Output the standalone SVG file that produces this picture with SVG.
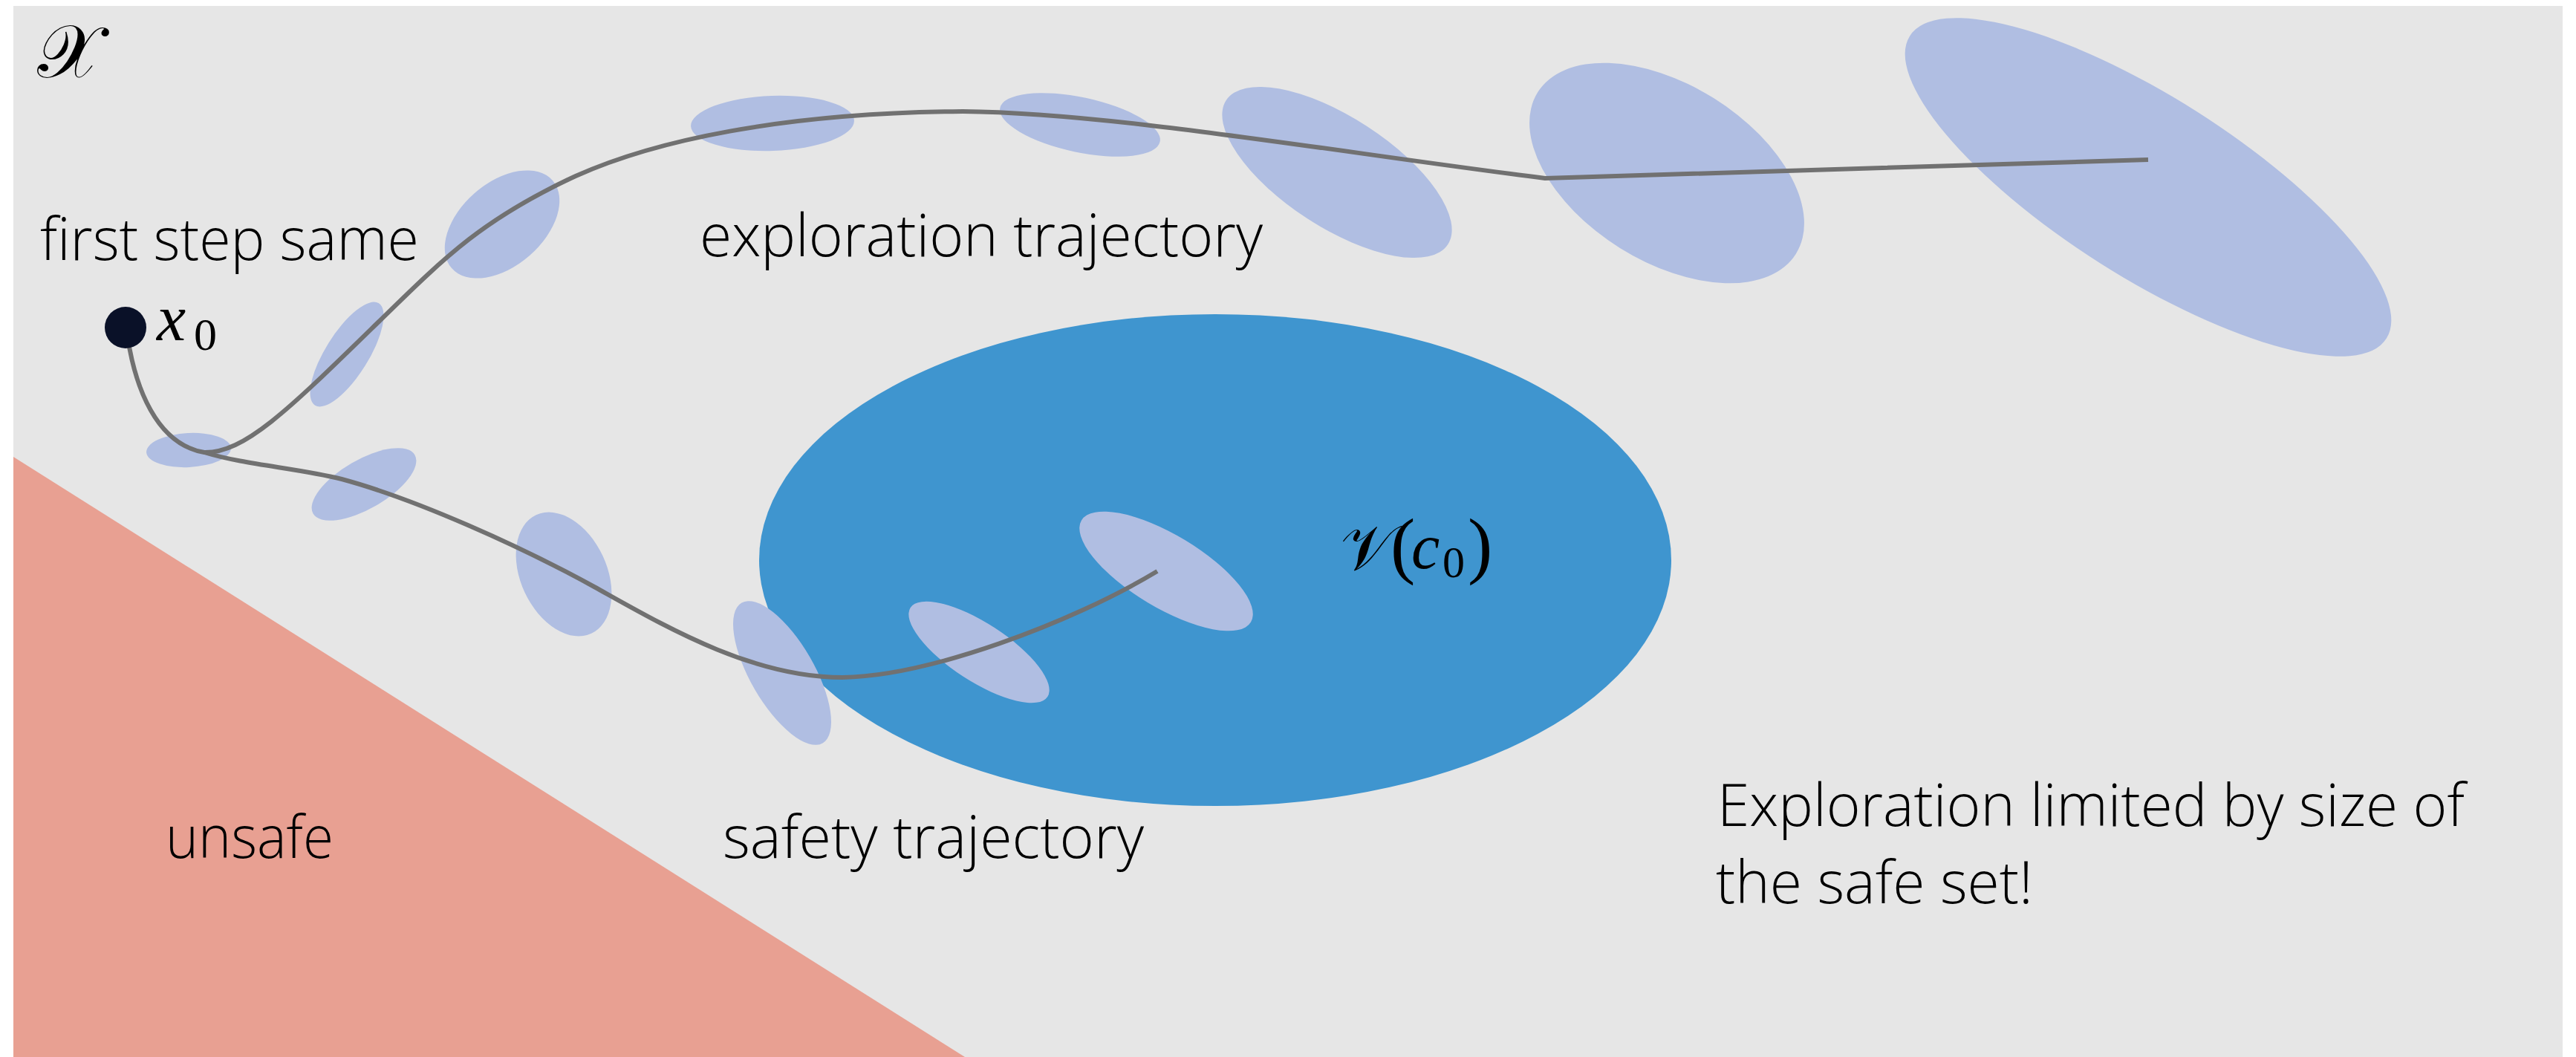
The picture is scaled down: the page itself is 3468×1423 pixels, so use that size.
<svg xmlns="http://www.w3.org/2000/svg" width="3468" height="1423" viewBox="0 0 3468 1423">
<style>
.lbl{font-family:"Open Sans","Liberation Sans",sans-serif;font-weight:300;font-size:79px;fill:#000}
.math{font-family:"Liberation Serif","DejaVu Serif",serif;fill:#000}
.cov{fill:#b0bee2}
.traj{fill:none;stroke:#717171;stroke-width:6;stroke-linecap:butt;stroke-linejoin:round}
</style>
<rect x="0" y="0" width="3468" height="1423" fill="#ffffff"/>
<rect id="space" x="18" y="8" width="3432" height="1415" fill="#e6e6e6"/>
<g id="unsafe-region"><polygon points="18,615 1299,1423 18,1423" fill="#e8a092"/></g>
<g id="safe-set"><ellipse cx="1636" cy="754" rx="614" ry="331" fill="#3f95cf"/></g>
<g id="uncertainty-ellipses">
<ellipse class="cov" cx="254" cy="606" rx="57" ry="23" transform="rotate(-3 254 606)"/>
<ellipse class="cov" cx="467" cy="477" rx="81" ry="29" transform="rotate(-58 467 477)"/>
<ellipse class="cov" cx="676" cy="302" rx="90" ry="56" transform="rotate(-41 676 302)"/>
<ellipse class="cov" cx="1040" cy="166" rx="110" ry="37" transform="rotate(-2 1040 166)"/>
<ellipse class="cov" cx="1454" cy="168" rx="110" ry="37" transform="rotate(12 1454 168)"/>
<ellipse class="cov" cx="1800" cy="232" rx="178" ry="74" transform="rotate(33 1800 232)"/>
<ellipse class="cov" cx="2244" cy="233" rx="205" ry="119" transform="rotate(32 2244 233)"/>
<ellipse class="cov" cx="2892" cy="252" rx="380" ry="121" transform="rotate(32.4 2892 252)"/>
<ellipse class="cov" cx="490" cy="652" rx="79" ry="33" transform="rotate(-30 490 652)"/>
<ellipse class="cov" cx="759" cy="773" rx="88" ry="58" transform="rotate(65 759 773)"/>
<ellipse class="cov" cx="1053" cy="906" rx="109" ry="43" transform="rotate(60 1053 906)"/>
<ellipse class="cov" cx="1318" cy="878" rx="110" ry="39" transform="rotate(33 1318 878)"/>
<ellipse class="cov" cx="1570" cy="769" rx="133" ry="49" transform="rotate(31 1570 769)"/>
</g>
<g id="connectors">
<path id="exploration-trajectory" class="traj" d="M172,455 C182,520 210,598 275,609 C330,610 390,550 510,433 C600,345 650,295 775,237 C880,190 1050,152 1296,150 C1500,152 1800,205 2080,240 L2892,215"/>
<path id="safety-trajectory" class="traj" d="M275,609 C330,626 400,630 460,645 C560,672 700,735 800,790 C890,840 1010,912 1134,912 C1250,910 1440,840 1558,769"/>
</g>
<g id="x0"><circle cx="169" cy="441" r="28" fill="#0a1128"/>
<text class="math"><tspan x="211" y="458" font-size="88" font-style="italic">x</tspan><tspan x="261" y="471" font-size="62">0</tspan></text></g>
<g id="labels">
<text class="math" x="50" y="104" font-size="100">𝒳</text>
<text class="lbl" x="54" y="350" textLength="510" lengthAdjust="spacingAndGlyphs">first step same</text>
<text class="lbl" x="942" y="345" textLength="758" lengthAdjust="spacingAndGlyphs">exploration trajectory</text>
<text class="lbl" x="223" y="1155" textLength="226" lengthAdjust="spacingAndGlyphs">unsafe</text>
<text class="lbl" x="973" y="1155" textLength="567" lengthAdjust="spacingAndGlyphs">safety trajectory</text>
<text class="lbl" x="2312" y="1112" textLength="1006" lengthAdjust="spacingAndGlyphs">Exploration limited by size of</text>
<text class="lbl" x="2310" y="1216" textLength="427" lengthAdjust="spacingAndGlyphs">the safe set!</text>
<text class="math"><tspan x="1805" y="767" font-size="86">𝒱</tspan><tspan x="1872" y="767" font-size="100">(</tspan><tspan x="1900" y="765" font-size="86" font-style="italic">c</tspan><tspan x="1942" y="777" font-size="60">0</tspan><tspan x="1976" y="767" font-size="100">)</tspan></text>
</g>
</svg>
